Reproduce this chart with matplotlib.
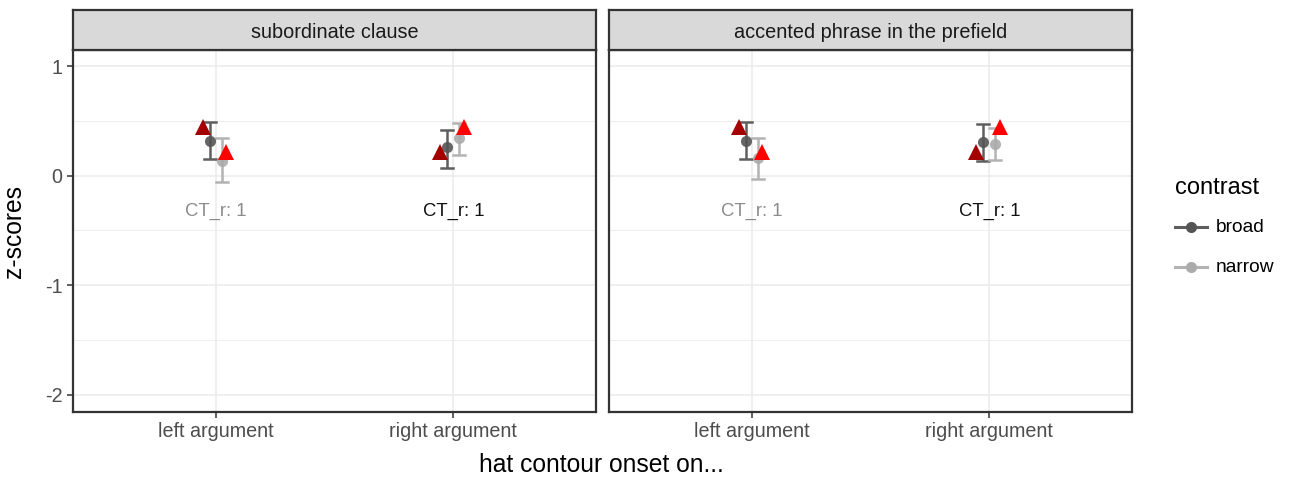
import matplotlib
matplotlib.use("Agg")
import matplotlib.pyplot as plt
from matplotlib.lines import Line2D
import numpy as np

plt.rcParams['font.family'] = ['Liberation Sans', 'DejaVu Sans']

panels = ["subordinate clause", "accented phrase in the prefield"]
categories = ["left argument", "right argument"]
contrasts = ["broad", "narrow"]

broad_mean = [[0.32, 0.26], [0.32, 0.31]]
broad_lo = [[0.15, 0.07], [0.15, 0.13]]
broad_hi = [[0.49, 0.42], [0.49, 0.47]]
narrow_mean = [[0.13, 0.34], [0.16, 0.29]]
narrow_lo = [[-0.06, 0.19], [-0.03, 0.14]]
narrow_hi = [[0.345, 0.48], [0.34, 0.43]]
tri_dark = [[0.44, 0.22], [0.44, 0.22]]
tri_red = [[0.22, 0.44], [0.22, 0.44]]
ct_label = "CT_r: 1"
ct_y = -0.33
yticks = [1, 0, -1, -2]

W, H = 1289, 479
fig = plt.figure(figsize=(W / 100, H / 100), dpi=100)

def fx(px):
    return px / W

def fy(py):
    return 1 - py / H

panel_px = [(73, 596), (609, 1132)]
top_px, bot_px, strip_top_px = 50, 412, 10

broad_col = '#555555'
narrow_col = '#ABABAB'
broad_err = '#5E5E5E'
narrow_err = '#B3B3B3'
dark_red = '#A50000'
red = '#FF0000'
ct_cols = ['#8C8C8C', '#111111']

for i, (l, r) in enumerate(panel_px):
    ax = fig.add_axes([fx(l), fy(bot_px), fx(r) - fx(l), fy(top_px) - fy(bot_px)])
    ax.set_xlim(0.4, 2.6)
    ax.set_ylim(-2.156, 1.146)
    ax.set_facecolor('white')
    for yv in [1.0, 0.5, 0.0, -0.5, -1.0, -1.5, -2.0]:
        lw = 1.1 if yv in yticks else 0.6
        ax.axhline(yv, color='#EBEBEB', lw=lw, zorder=0)
    for xv in [1, 2]:
        ax.axvline(xv, color='#EBEBEB', lw=1.1, zorder=0)
    xs = np.arange(1, len(categories) + 1)
    d = 0.025
    cap = 0.025
    for j, x in enumerate(xs):
        for xc, lo, hi, col in [(x - d, broad_lo[i][j], broad_hi[i][j], broad_err),
                                (x + d, narrow_lo[i][j], narrow_hi[i][j], narrow_err)]:
            ax.plot([xc, xc], [lo, hi], color=col, lw=1.8, zorder=2, solid_capstyle='butt')
            ax.plot([xc - cap, xc + cap], [lo, lo], color=col, lw=1.8, zorder=2)
            ax.plot([xc - cap, xc + cap], [hi, hi], color=col, lw=1.8, zorder=2)
        ax.plot(x - d, broad_mean[i][j], 'o', color=broad_col, ms=8, mew=0, zorder=3, alpha=0.9)
        ax.plot(x + d, narrow_mean[i][j], 'o', color=narrow_col, ms=8, mew=0, zorder=3, alpha=0.9)
        ax.plot(x - 0.055, tri_dark[i][j], '^', color=dark_red, ms=12, mew=0, zorder=4)
        ax.plot(x + 0.045, tri_red[i][j], '^', color=red, ms=12, mew=0, zorder=4)
        ax.text(x, ct_y, ct_label, ha='center', va='center', fontsize=13.3, color=ct_cols[j], zorder=5)
    ax.set_xticks(xs)
    ax.set_xticklabels(categories, fontsize=14.2, color='#4D4D4D')
    ax.set_yticks(yticks)
    if i == 0:
        ax.set_yticklabels([str(v) for v in yticks], fontsize=14.2, color='#4D4D4D')
        ax.tick_params(axis='y', length=4.5, width=1.1, color='#333333', pad=3)
    else:
        ax.tick_params(axis='y', length=0, labelleft=False)
    ax.tick_params(axis='x', length=4.5, width=1.1, color='#333333', pad=3)
    for sp in ax.spines.values():
        sp.set_color('#333333')
        sp.set_linewidth(1.6)
    sax = fig.add_axes([fx(l), fy(top_px), fx(r) - fx(l), fy(strip_top_px) - fy(top_px)])
    sax.set_facecolor('#D9D9D9')
    sax.set_xticks([])
    sax.set_yticks([])
    for sp in sax.spines.values():
        sp.set_color('#333333')
        sp.set_linewidth(1.6)
    sax.text(0.5, 0.45, panels[i], ha='center', va='center', fontsize=14.3,
             color='#1A1A1A', transform=sax.transAxes)

fig.text(fx(14), fy(231), "z-scores", rotation=90, ha='center', va='center', fontsize=17.7, color='black')
fig.text(fx(601), fy(465), "hat contour onset on...", ha='center', va='center', fontsize=17.7, color='black')

fig.text(fx(1175), fy(188), "contrast", ha='left', va='center', fontsize=17, color='black')
for k, (lab, pcol, ecol, ly) in enumerate([("broad", broad_col, broad_err, 227),
                                             ("narrow", narrow_col, narrow_err, 267)]):
    fig.add_artist(Line2D([fx(1175), fx(1207)], [fy(ly), fy(ly)], color=ecol, lw=2.2,
                          transform=fig.transFigure))
    fig.add_artist(Line2D([fx(1191)], [fy(ly)], marker='o', color=pcol, ms=8, mew=0,
                          transform=fig.transFigure))
    fig.text(fx(1216), fy(ly), lab, ha='left', va='center', fontsize=13.8, color='black')

fig.savefig("out.png", dpi=100)
